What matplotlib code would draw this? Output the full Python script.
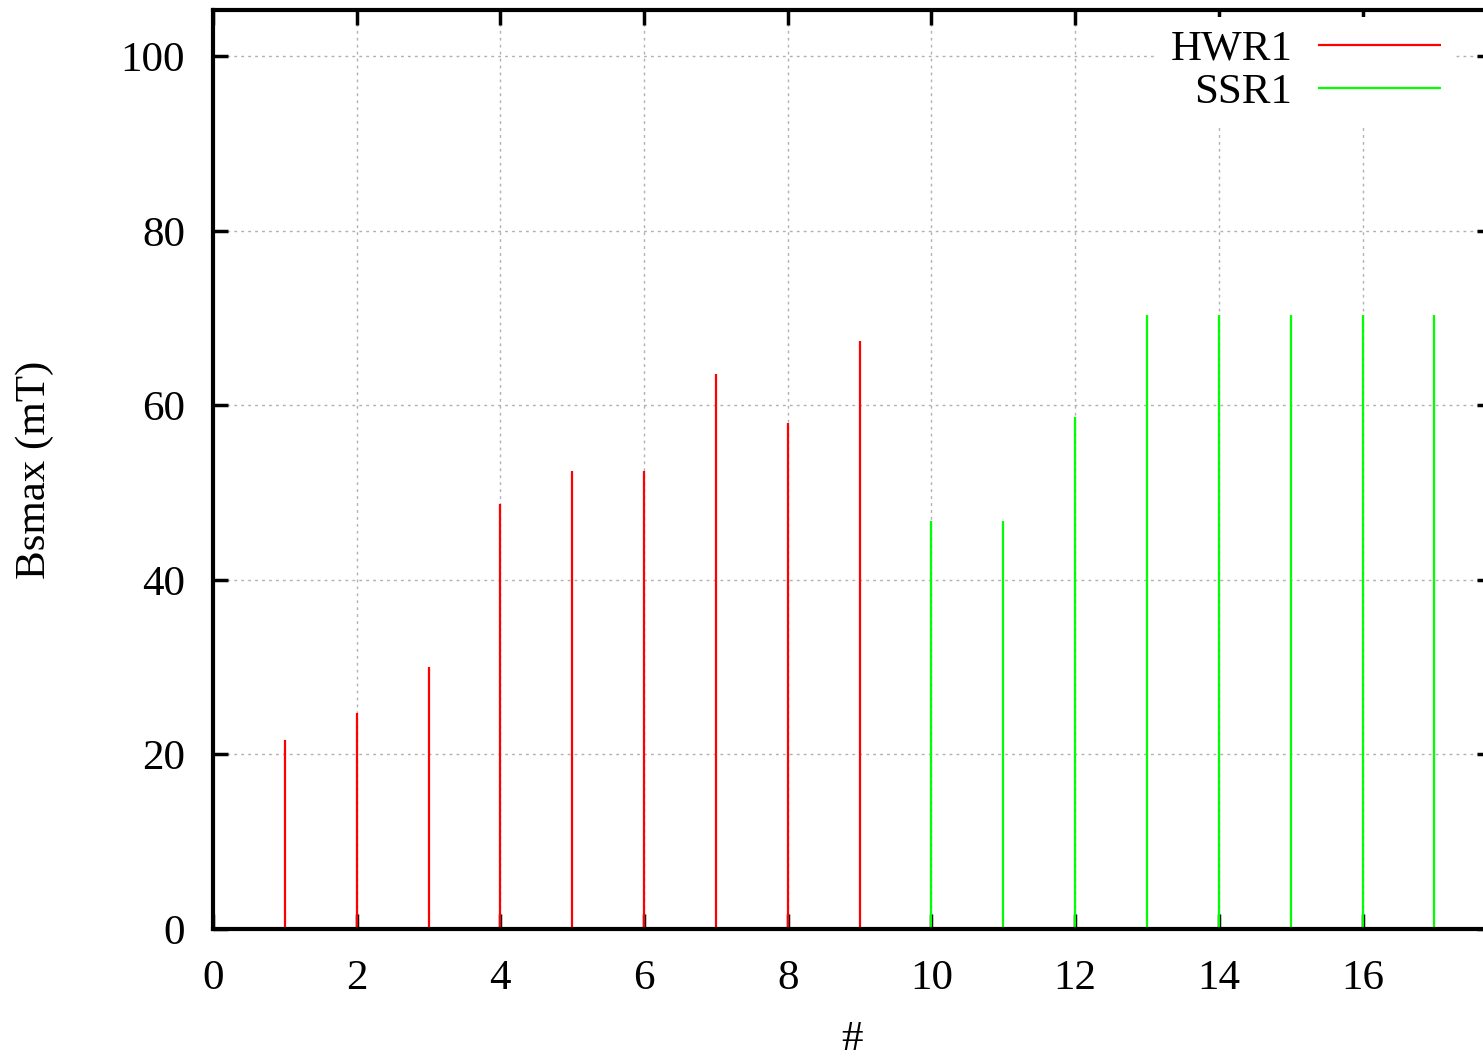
import numpy as np
import matplotlib.pyplot as plt

plt.rcParams.update(
    {
        "font.family": ["Liberation Serif", "DejaVu Serif"],
        "font.size": 31,
    }
)

# cavity index and peak surface magnetic field
hwr_idx = [1, 2, 3, 4, 5, 6, 7, 8, 9]
hwr_bsmax = [21.7, 24.8, 30.0, 48.7, 52.5, 52.5, 63.6, 58.0, 67.4]
ssr_idx = [10, 11, 12, 13, 14, 15, 16, 17]
ssr_bsmax = [46.8, 46.8, 58.7, 70.3, 70.3, 70.3, 70.3, 70.3]

xticks = [0, 2, 4, 6, 8, 10, 12, 14, 16]
yticks = [0, 20, 40, 60, 80, 100]

fig = plt.figure(figsize=(14.83, 10.6), dpi=100)
ax = fig.add_axes([0.1436, 0.1236, 0.8624, 0.867])

ax.vlines(hwr_idx, 0, hwr_bsmax, color="#ff0000", lw=1.6, zorder=3, label="HWR1")
ax.vlines(ssr_idx, 0, ssr_bsmax, color="#00ff00", lw=1.6, zorder=3, label="SSR1")

ax.set_xlim(0, 17.8)
ax.set_ylim(0, 105.3)
ax.set_xticks(xticks)
ax.set_yticks(yticks)
ax.grid(True, color="#b0b0b0", linestyle=(0, (2, 3)), linewidth=1.0)
ax.set_axisbelow(True)
ax.tick_params(direction="in", length=11, width=2.5, top=True, right=True,
               pad=20, labelsize=31)
ax.tick_params(axis="x", pad=22)
for s in ax.spines.values():
    s.set_linewidth(3)
    s.set_zorder(4)

ax.set_xlabel("#", labelpad=16)
ax.set_ylabel("Bsmax (mT)", labelpad=48)

leg = ax.legend(loc="upper right", bbox_to_anchor=(0.987, 1.016),
                markerfirst=False, frameon=True, fancybox=False,
                handlelength=2.85, handletextpad=0.6, labelspacing=0.1,
                borderpad=0.3, fontsize=31)
leg.get_frame().set_facecolor("white")
leg.get_frame().set_edgecolor("none")
leg.get_frame().set_alpha(1.0)
for t in leg.get_texts():
    t.set_ha("right")

fig.savefig("out.png", dpi=100)
